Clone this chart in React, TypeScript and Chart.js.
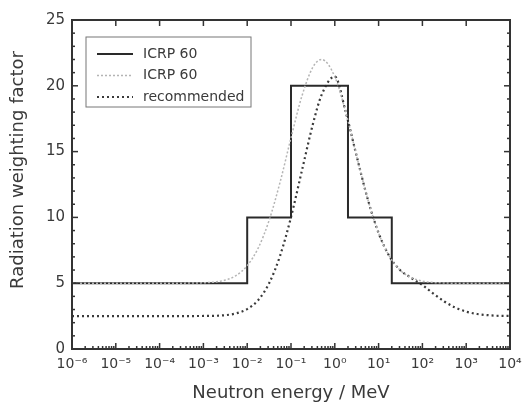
import React, { useEffect, useRef } from 'react';
import { Chart, registerables } from 'chart.js';

Chart.register(...registerables);

// Neutron energies (MeV) at which the continuous curves are sampled
const energies = [
  1e-6, 1e-5, 1e-4, 1e-3, 3.162e-3, 5.623e-3, 1e-2, 1.778e-2, 3.162e-2, 5.623e-2,
  0.1, 0.1778, 0.3162, 0.5, 1, 1.778, 3.162, 5.623, 10, 17.78, 31.62, 50,
  100, 177.8, 316.2, 562.3, 1000, 1778, 3162, 5623, 10000,
];
// ICRP 60 continuous function (grey dotted)
const icrp60Curve = [
  5, 5, 5, 5.03, 5.24, 5.59, 6.33, 7.66, 9.77, 12.67,
  16.04, 19.23, 21.42, 22.0, 20.69, 18.0, 14.64, 11.41, 8.81, 7.03, 5.97, 5.5,
  5.16, 5.05, 5.02, 5.0, 5, 5, 5, 5, 5,
];
// Recommended function (dark dotted)
const recommended = [
  2.5, 2.5, 2.5, 2.51, 2.57, 2.71, 3.03, 3.71, 4.99, 7.08,
  10.02, 13.57, 17.09, 19.31, 20.7, 18.0, 14.64, 11.41, 8.81, 7.03, 5.97, 5.5,
  4.86, 4.21, 3.61, 3.15, 2.84, 2.66, 2.57, 2.52, 2.51,
];
// ICRP 60 step function
const stepEdges = [1e-6, 1e-2, 0.1, 2, 20, 1e4];
const stepValues = [5, 10, 20, 10, 5, 5];

const xTickValues = [1e-6, 1e-5, 1e-4, 1e-3, 1e-2, 1e-1, 1, 10, 100, 1000, 1e4];
const xTickLabels = ['10⁻⁶', '10⁻⁵', '10⁻⁴', '10⁻³', '10⁻²', '10⁻¹', '10⁰', '10¹', '10²', '10³', '10⁴'];
const yTickValues = [0, 5, 10, 15, 20, 25];

const legendLabels = ['ICRP 60', 'ICRP 60', 'recommended'];
const xTitle = 'Neutron energy / MeV';
const yTitle = 'Radiation weighting factor';

const FONT = "'DejaVu Sans', 'Liberation Sans', Arial, sans-serif";
const TEXT = '#3a3a3a';

const framePlugin = {
  id: 'framePlugin',
  afterDatasetsDraw(chart: any) {
    const { ctx, chartArea: a, scales } = chart;
    const xs = scales.x;
    const ys = scales.y;
    const line = (x1: number, y1: number, x2: number, y2: number) => {
      ctx.beginPath();
      ctx.moveTo(x1, y1);
      ctx.lineTo(x2, y2);
      ctx.stroke();
    };
    ctx.save();
    ctx.strokeStyle = '#333';
    ctx.setLineDash([]);
    ctx.lineWidth = 1.5;
    // x ticks (major top+bottom, minor bottom)
    for (let i = 0; i < xTickValues.length; i++) {
      const v = xTickValues[i];
      const px = xs.getPixelForValue(v);
      line(px, a.bottom, px, a.bottom - 6);
      line(px, a.top, px, a.top + 6);
      if (i < xTickValues.length - 1) {
        for (let m = 2; m <= 9; m++) {
          const mx = xs.getPixelForValue(v * m);
          line(mx, a.bottom, mx, a.bottom - 3);
        }
      }
    }
    // y ticks
    for (let v = 0; v <= 25; v++) {
      const py = ys.getPixelForValue(v);
      const len = v % 5 === 0 ? 6 : 3;
      line(a.left, py, a.left + len, py);
      line(a.right, py, a.right - len, py);
    }
    // frame
    ctx.lineWidth = 2;
    ctx.strokeRect(a.left, a.top, a.right - a.left, a.bottom - a.top);

    // legend
    const bx = a.left + 14;
    const by = a.top + 17;
    ctx.lineWidth = 1;
    ctx.strokeStyle = '#777';
    ctx.strokeRect(bx, by, 165, 70);
    const order = [1, 0, 2];
    ctx.font = `14px ${FONT}`;
    ctx.fillStyle = TEXT;
    ctx.textBaseline = 'middle';
    ctx.textAlign = 'left';
    order.forEach((di, row) => {
      const ds = chart.data.datasets[di];
      const ry = by + 17 + row * 21.5;
      ctx.strokeStyle = ds.borderColor;
      ctx.lineWidth = ds.borderWidth;
      ctx.setLineDash(ds.borderDash || []);
      line(bx + 11, ry, bx + 47, ry);
      ctx.setLineDash([]);
      ctx.fillText(legendLabels[row], bx + 57, ry);
    });

    // axis titles
    ctx.font = `18px ${FONT}`;
    ctx.fillStyle = TEXT;
    ctx.textAlign = 'center';
    ctx.textBaseline = 'middle';
    ctx.fillText(xTitle, (a.left + a.right) / 2, 393);
    ctx.save();
    ctx.translate(18, 170);
    ctx.rotate(-Math.PI / 2);
    ctx.fillText(yTitle, 0, 0);
    ctx.restore();
    ctx.restore();
  },
};

export default function App() {
  const ref = useRef<HTMLCanvasElement | null>(null);
  useEffect(() => {
    document.body.style.margin = '0';
    const canvas = ref.current;
    if (!canvas) return;
    const chart = new Chart(canvas, {
      type: 'line',
      data: {
        datasets: [
          {
            label: 'ICRP 60 (continuous)',
            data: energies.map((e, i) => ({ x: e, y: icrp60Curve[i] })),
            borderColor: '#b4b4b4',
            borderWidth: 1.5,
            borderDash: [2, 2],
            pointRadius: 0,
            cubicInterpolationMode: 'monotone',
            fill: false,
          },
          {
            label: 'ICRP 60',
            data: stepEdges.map((e, i) => ({ x: e, y: stepValues[i] })),
            borderColor: '#2a2a2a',
            borderWidth: 2,
            stepped: 'before',
            pointRadius: 0,
            fill: false,
          },
          {
            label: 'recommended',
            data: energies.map((e, i) => ({ x: e, y: recommended[i] })),
            borderColor: '#3a3a3a',
            borderWidth: 2.2,
            borderDash: [2, 3],
            pointRadius: 0,
            cubicInterpolationMode: 'monotone',
            fill: false,
          },
        ],
      } as any,
      options: {
        responsive: false,
        animation: false,
        layout: { padding: { top: 20, right: 12, left: 4, bottom: 6 } },
        plugins: { legend: { display: false }, tooltip: { enabled: false } },
        scales: {
          x: {
            type: 'logarithmic',
            min: 1e-6,
            max: 1e4,
            grid: { display: false, drawTicks: false },
            border: { display: false },
            afterBuildTicks: (s: any) => {
              s.ticks = xTickValues.map((v) => ({ value: v }));
            },
            afterFit: (s: any) => {
              s.height = 53;
              s.paddingLeft = 0;
              s.paddingRight = 0;
            },
            ticks: {
              autoSkip: false,
              maxRotation: 0,
              padding: 7,
              color: TEXT,
              font: { family: FONT, size: 14 },
              callback: (_v: any, i: number) => xTickLabels[i],
            },
          },
          y: {
            min: 0,
            max: 25,
            grid: { display: false, drawTicks: false },
            border: { display: false },
            afterBuildTicks: (s: any) => {
              s.ticks = yTickValues.map((v) => ({ value: v }));
            },
            afterFit: (s: any) => {
              s.width = 68;
              s.paddingTop = 0;
              s.paddingBottom = 0;
            },
            ticks: {
              padding: 7,
              color: TEXT,
              font: { family: FONT, size: 15 },
            },
          },
        },
      } as any,
      plugins: [framePlugin],
    });
    return () => chart.destroy();
  }, []);
  return <canvas ref={ref} width={522} height={408} style={{ display: 'block', width: 522, height: 408 }} />;
}
